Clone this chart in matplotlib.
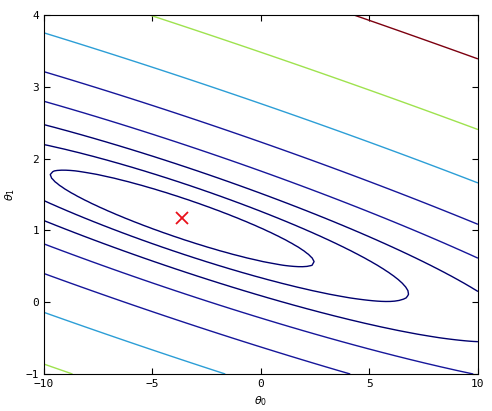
import matplotlib
matplotlib.use("Agg")
import matplotlib.pyplot as plt
import numpy

# parametres de la fonction de cout (forme quadratique)
theta_min = [-3.6303, 1.1664]   # minimum (croix rouge)
J_min = 4.477
moy_x = 8.16       # moyenne de x
moy_x2 = 81.4      # moyenne de x^2

theta0_vals = numpy.linspace(-10, 10, 100)
theta1_vals = numpy.linspace(-1, 4, 100)
niveaux = numpy.logspace(-2, 3, 20)

T0, T1 = numpy.meshgrid(theta0_vals, theta1_vals)
d0 = T0 - theta_min[0]
d1 = T1 - theta_min[1]
J_vals = J_min + 0.5*(d0**2 + 2*moy_x*d0*d1 + moy_x2*d1**2)

# couleurs des niveaux
def couleur(v):
    if v < 30:
        return '#00006e'
    if v < 100:
        return '#16169a'
    if v < 200:
        return '#2c9ed6'
    if v < 400:
        return '#9ee24e'
    return '#7c0010'
couleurs = [couleur(v) for v in niveaux]

fig = plt.figure(figsize=(4.92, 4.11), dpi=100)
ax = fig.add_axes([0.0894, 0.09, 0.882, 0.8735])

ax.contour(T0, T1, J_vals, levels=niveaux, colors=couleurs, linewidths=1)
ax.plot(theta_min[0], theta_min[1], 'x', color='#e8101a', markersize=9, mew=1.3)

ax.set_xlim(-10, 10)
ax.set_ylim(-1, 4)
ax.set_xticks([-10, -5, 0, 5, 10])
ax.set_yticks([-1, 0, 1, 2, 3, 4])
ax.tick_params(direction='in', top=True, right=True, length=4, labelsize=8)
for l in ax.get_xticklabels() + ax.get_yticklabels():
    l.set_family('DejaVu Sans Mono')
ax.set_xlabel(r'$\theta_0$', fontsize=8, labelpad=4)
ax.set_ylabel(r'$\theta_1$', fontsize=8, labelpad=6)

plt.savefig("out.png", dpi=100)
